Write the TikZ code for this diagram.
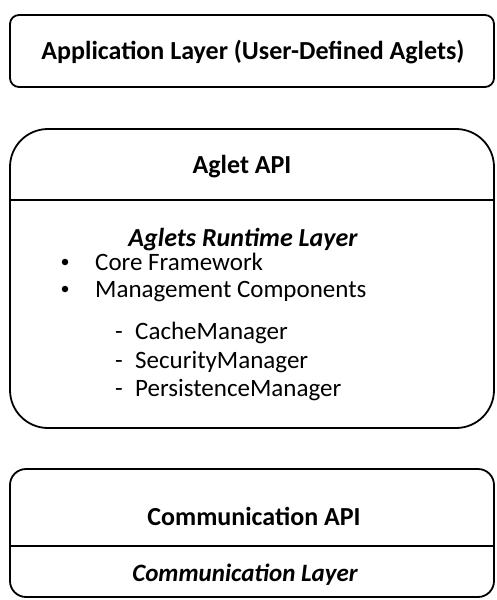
\documentclass[tikz,border=0pt]{standalone}
\usepackage{fontspec}
\setmainfont{Carlito}
\begin{document}
\begin{tikzpicture}[x=1pt,y=-1pt,
  layerbox/.style={draw=black,line width=1.8pt},
  divider/.style={draw=black,line width=2pt},
  headtext/.style={font=\fontsize{26}{30}\selectfont\bfseries,inner sep=0pt},
  layertext/.style={font=\fontsize{26}{30}\selectfont\bfseries\itshape,inner sep=0pt},
  itemtext/.style={font=\fontsize{25}{30}\selectfont,anchor=base west,inner sep=0pt},
  bulletdot/.style={circle,fill=black,inner sep=0pt,minimum size=6.5pt},
  dashmark/.style={font=\fontsize{25}{30}\selectfont,anchor=base,inner sep=0pt}]
\useasboundingbox (0,0) rectangle (496,600);

% Application layer
\draw[layerbox,rounded corners=9pt] (10,15) rectangle (494,87);
\node[headtext] (app) at (253,52) {Application Layer (User-Defined Aglets)};

% Aglet API and runtime layer
\draw[layerbox,rounded corners=38pt] (10,129) rectangle (494,428);
\coordinate (rtl) at (10,200);
\coordinate (rtr) at (494,200);
\draw[divider] (rtl) -- (rtr);
\node[headtext] (api) at (242,167) {Aglet API};
\node[layertext] (runtime) at (243,240) {Aglets Runtime Layer};
\node[bulletdot] (b1) at (65,262) {};
\node[itemtext] (core) at (95,270) {Core Framework};
\node[bulletdot] (b2) at (65,289) {};
\node[itemtext] (mgmt) at (95,297) {Management Components};
\node[dashmark] (d1) at (119,339) {-};
\node[itemtext] (cache) at (135,339) {CacheManager};
\node[dashmark] (d2) at (119,368) {-};
\node[itemtext] (secu) at (135,368) {SecurityManager};
\node[dashmark] (d3) at (119,396) {-};
\node[itemtext] (pers) at (135,396) {PersistenceManager};

% Communication API and layer
\draw[layerbox,rounded corners=16pt] (10,469) rectangle (494,597);
\coordinate (cml) at (10,546);
\coordinate (cmr) at (494,546);
\draw[divider] (cml) -- (cmr);
\node[headtext] (capi) at (254,516) {Communication API};
\node[layertext,font=\fontsize{25}{30}\selectfont\bfseries\itshape] (clayer) at (245,575) {Communication Layer};
\end{tikzpicture}
\end{document}
